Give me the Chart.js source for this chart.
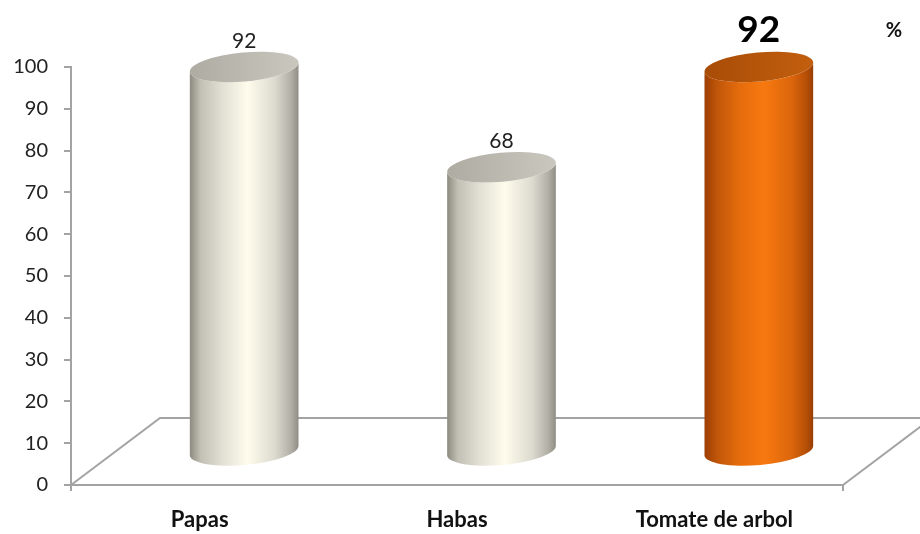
<!DOCTYPE html>
<html>
<head>
<meta charset="utf-8">
<script src="https://cdn.jsdelivr.net/npm/chart.js@4"></script>
<style>
  html, body { margin: 0; padding: 0; background: #fff; }
  #wrap { width: 920px; height: 534px; }
</style>
</head>
<body>
<div id="wrap"><canvas id="cultivosChart"></canvas></div>
<script>
const categories = ['Papas', 'Habas', 'Tomate de arbol'];
const values = [92, 68, 92];
const yTicks = [0, 10, 20, 30, 40, 50, 60, 70, 80, 90, 100];
const highlightIndex = 2; // la barra naranja

// profundidad del piso 3D (el cilindro va a la mitad)
const FLOOR_DX = 89, FLOOR_DY = -67;
const TILT = -0.09;
const AXIS_GRAY = '#a3a3a3';

function cylinderGradient(ctx, left, right, orange) {
    const g = ctx.createLinearGradient(left, 0, right, 0);
    if (orange) {
        g.addColorStop(0, '#9c3e02');
        g.addColorStop(0.12, '#c0560a');
        g.addColorStop(0.32, '#e56c0c');
        g.addColorStop(0.55, '#f7790f');
        g.addColorStop(0.8, '#dc660c');
        g.addColorStop(0.94, '#b44e06');
        g.addColorStop(1, '#983c02');
    } else {
        g.addColorStop(0, '#8c897f');
        g.addColorStop(0.1, '#c2bfb5');
        g.addColorStop(0.3, '#e2e0d4');
        g.addColorStop(0.53, '#fffcec');
        g.addColorStop(0.78, '#dddbd0');
        g.addColorStop(0.93, '#b1aea5');
        g.addColorStop(1, '#8f8c83');
    }
    return g;
}

const floorPlugin = {
    id: 'floor3d',
    beforeDatasetsDraw(chart) {
        const { ctx, chartArea: a } = chart;
        ctx.save();
        ctx.strokeStyle = AXIS_GRAY;
        ctx.lineWidth = 2;
        ctx.beginPath();
        ctx.moveTo(a.left, a.bottom);
        ctx.lineTo(a.left + FLOOR_DX, a.bottom + FLOOR_DY);
        ctx.lineTo(a.right + FLOOR_DX, a.bottom + FLOOR_DY);
        ctx.lineTo(a.right, a.bottom);
        ctx.stroke();
        // marcas pequeñas en los extremos del eje x
        ctx.beginPath();
        ctx.moveTo(a.left, a.bottom);
        ctx.lineTo(a.left, a.bottom + 6);
        ctx.moveTo(a.right, a.bottom);
        ctx.lineTo(a.right, a.bottom + 6);
        ctx.stroke();
        ctx.restore();
    }
};

const cylinderPlugin = {
    id: 'cylinders',
    afterDatasetsDraw(chart) {
        const { ctx } = chart;
        const meta = chart.getDatasetMeta(0);
        ctx.save();
        meta.data.forEach((bar, i) => {
            const orange = i === highlightIndex;
            const cx = bar.x + FLOOR_DX / 2;
            const topY = bar.y + FLOOR_DY / 2;
            const botY = bar.base + FLOOR_DY / 2;
            const rx = bar.width / 2;
            const ry = 14.5;

            // cuerpo
            ctx.beginPath();
            ctx.ellipse(cx, topY, rx, ry, TILT, 0, Math.PI, false);
            ctx.ellipse(cx, botY, rx, ry, TILT, Math.PI, 0, true);
            ctx.closePath();
            ctx.fillStyle = cylinderGradient(ctx, cx - rx, cx + rx, orange);
            ctx.fill();

            // tapa
            const tg = ctx.createLinearGradient(cx - rx, 0, cx + rx, 0);
            if (orange) {
                tg.addColorStop(0, '#a84c06');
                tg.addColorStop(1, '#c25f0e');
            } else {
                tg.addColorStop(0, '#aeaba2');
                tg.addColorStop(1, '#cac7bf');
            }
            ctx.beginPath();
            ctx.ellipse(cx, topY, rx, ry, TILT, 0, Math.PI * 2);
            ctx.fillStyle = tg;
            ctx.fill();

            // etiqueta de valor
            ctx.textAlign = 'center';
            ctx.textBaseline = 'middle';
            if (orange) {
                ctx.font = 'bold 37px Lato';
                ctx.fillStyle = '#000';
                ctx.fillText(values[i], cx, topY - 37);
            } else {
                ctx.font = '21px Lato';
                ctx.fillStyle = '#222';
                ctx.fillText(values[i], cx, topY - 26);
            }
        });

        ctx.font = 'bold 20px Lato';
        ctx.fillStyle = '#111';
        ctx.textAlign = 'center';
        ctx.textBaseline = 'middle';
        ctx.fillText('%', 894, 31);
        ctx.restore();
    }
};

const ctx = document.getElementById('cultivosChart').getContext('2d');
new Chart(ctx, {
    type: 'bar',
    data: {
        labels: categories,
        datasets: [{
            data: values,
            backgroundColor: 'rgba(0,0,0,0)',
            borderWidth: 0,
            categoryPercentage: 1,
            barPercentage: 0.424
        }]
    },
    options: {
        responsive: true,
        maintainAspectRatio: false,
        animation: false,
        layout: { padding: { top: 67, right: 77, left: 0, bottom: 0 } },
        plugins: {
            legend: { display: false },
            tooltip: { enabled: false }
        },
        scales: {
            y: {
                min: 0,
                max: 100,
                afterBuildTicks: s => { s.ticks = yTicks.map(v => ({ value: v })); },
                afterFit: s => { s.width = 71; },
                ticks: {
                    font: { family: 'Lato', size: 20 },
                    color: '#222',
                    padding: 16
                },
                grid: {
                    drawOnChartArea: false,
                    tickLength: 7,
                    color: AXIS_GRAY,
                    lineWidth: 2
                },
                border: { color: AXIS_GRAY, width: 2 }
            },
            x: {
                afterFit: s => { s.height = 49; },
                ticks: {
                    font: { family: 'Lato', size: 22, weight: 'bold' },
                    color: '#111',
                    padding: 22
                },
                grid: { display: false, drawTicks: false },
                border: { color: AXIS_GRAY, width: 2 }
            }
        }
    },
    plugins: [floorPlugin, cylinderPlugin]
});
</script>
</body>
</html>
